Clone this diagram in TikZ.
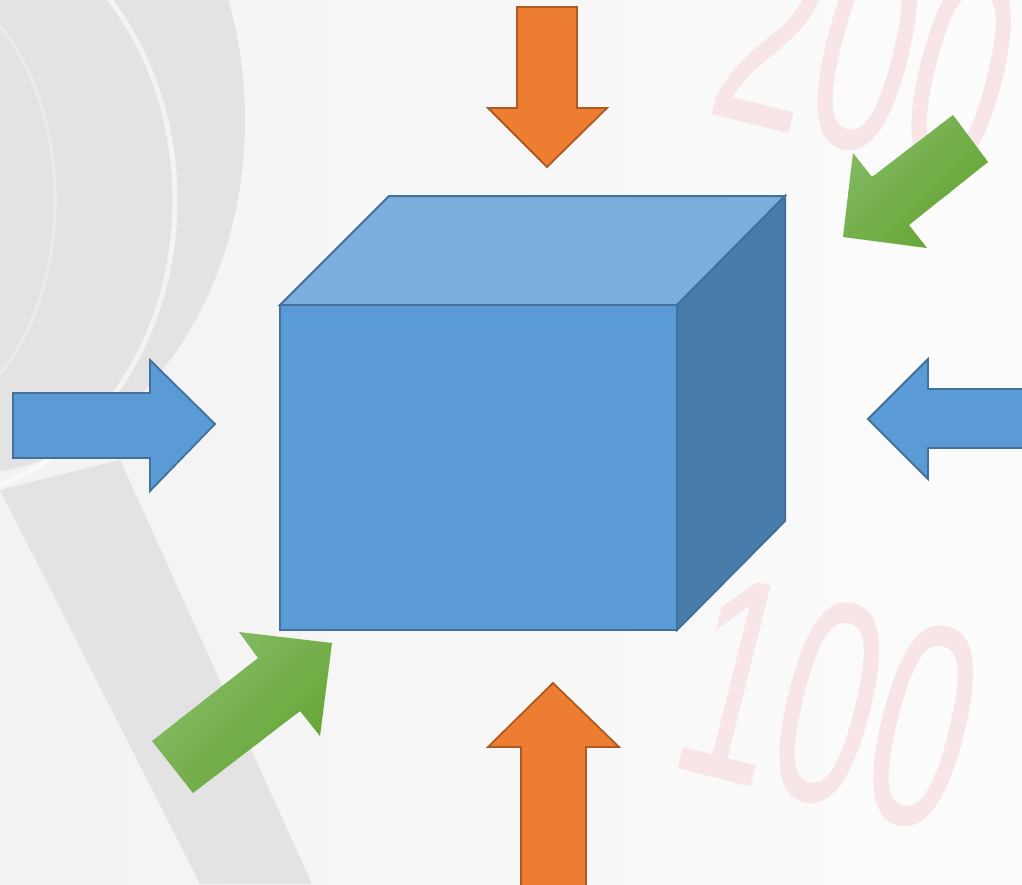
\documentclass[tikz,border=0pt]{standalone}
\usepackage{fontspec}
\newfontfamily\digitfont{Liberation Sans}
\usepackage{tikz}
\definecolor{cubeFront}{HTML}{5B9BD5}
\definecolor{cubeTop}{HTML}{7CAEDD}
\definecolor{cubeSide}{HTML}{487CAA}
\definecolor{cubeLine}{HTML}{41719C}
\definecolor{pushOrange}{HTML}{ED7D31}
\definecolor{pushOrangeLine}{HTML}{AE5A21}
\definecolor{pushGreenA}{HTML}{82B960}
\definecolor{pushGreenB}{HTML}{66A636}
\definecolor{photoGrey}{HTML}{E3E3E3}
\definecolor{photoPink}{HTML}{F8E5E5}
\tikzset{
  face/.style={draw=cubeLine, line width=2pt, line join=miter},
  blue push/.style={fill=cubeFront, draw=cubeLine, line width=1.8pt},
  orange push/.style={fill=pushOrange, draw=pushOrangeLine, line width=1.8pt},
  photo digits/.style={text=photoPink, font=\digitfont\fontsize{290}{290}\selectfont,
    rotate=-14, xscale=0.6, anchor=base west, inner sep=0pt},
}
% green block arrow, light on its north-west side: outline, then range of x+y
\newcommand{\greenpush}[3]{%
  \begin{scope}
    \clip #1;
    \foreach \k in {0,...,19} {
      \pgfmathsetmacro{\lo}{#2+(#3-#2)*\k/20}
      \pgfmathsetmacro{\hi}{\lo+(#3-#2)/20+1}
      \pgfmathtruncatemacro{\mix}{100-5*\k}
      \fill[pushGreenA!\mix!pushGreenB] (\lo,0) -- (\hi,0) -- (\hi-1000,1000) -- (\lo-1000,1000) -- cycle;
    }
  \end{scope}}

\begin{document}
\begin{tikzpicture}[x=1pt, y=-1pt]
    \useasboundingbox (0,0) rectangle (1022,884);
    \clip (0,0) rectangle (1022,884);
    \shade[left color=black!5, right color=black!1] (0,0) rectangle (1022,884);
    \fill[photoGrey] (-40,120) ellipse [x radius=285, y radius=355];
    \fill[photoGrey] (0,490) -- (120,460) -- (312,884) -- (200,884) -- cycle;
    \draw[white, line width=5pt, opacity=0.6] (-80,200) ellipse [x radius=255, y radius=300];
    \draw[white, line width=3pt, opacity=0.3] (-80,200) ellipse [x radius=135, y radius=215];
    \foreach \digits/\pos in {200/{(703,112)}, 100/{(665,765)}}
        \node[photo digits] (num\digits) at \pos {\digits};

    \coordinate (A) at (280,305);
    \coordinate (B) at (677,305);
    \coordinate (C) at (677,630);
    \coordinate (D) at (280,630);
    \coordinate (E) at (389,196);
    \coordinate (F) at (785,196);
    \coordinate (G) at (785,521);
    \filldraw[face, fill=cubeTop] (A) -- (E) -- (F) -- (B) -- cycle;
    \filldraw[face, fill=cubeSide] (B) -- (F) -- (G) -- (C) -- cycle;
    \filldraw[face, fill=cubeFront] (A) -- (B) -- (C) -- (D) -- cycle;

    \filldraw[orange push] (517,7) -- ++(60,0) -- ++(0,101) -- ++(30,0) -- (547,167) -- (488,108) -- ++(29,0) -- cycle;
    \filldraw[orange push] (553,683) -- (619,747) -- ++(-33,0) -- ++(0,150) -- ++(-65,0) -- ++(0,-150) -- ++(-33,0) -- cycle;
    \filldraw[blue push] (13,393) -- ++(137,0) -- ++(0,-33) -- (215,424) -- (150,491) -- ++(0,-33) -- ++(-137,0) -- cycle;
    \filldraw[blue push] (868,419) -- (928,359) -- ++(0,30) -- ++(110,0) -- ++(0,59) -- ++(-110,0) -- ++(0,31) -- cycle;
    \greenpush{(843,237) -- (853,153) -- (872,177) -- (953,115) -- (988,162) -- (909,225) -- (927,248) -- cycle}{1006}{1175}
    \greenpush{(332,643) -- (320,736) -- (300,711) -- (193,793) -- (152,741) -- (258,658) -- (239,632) -- cycle}{871}{1056}
\end{tikzpicture}
\end{document}
